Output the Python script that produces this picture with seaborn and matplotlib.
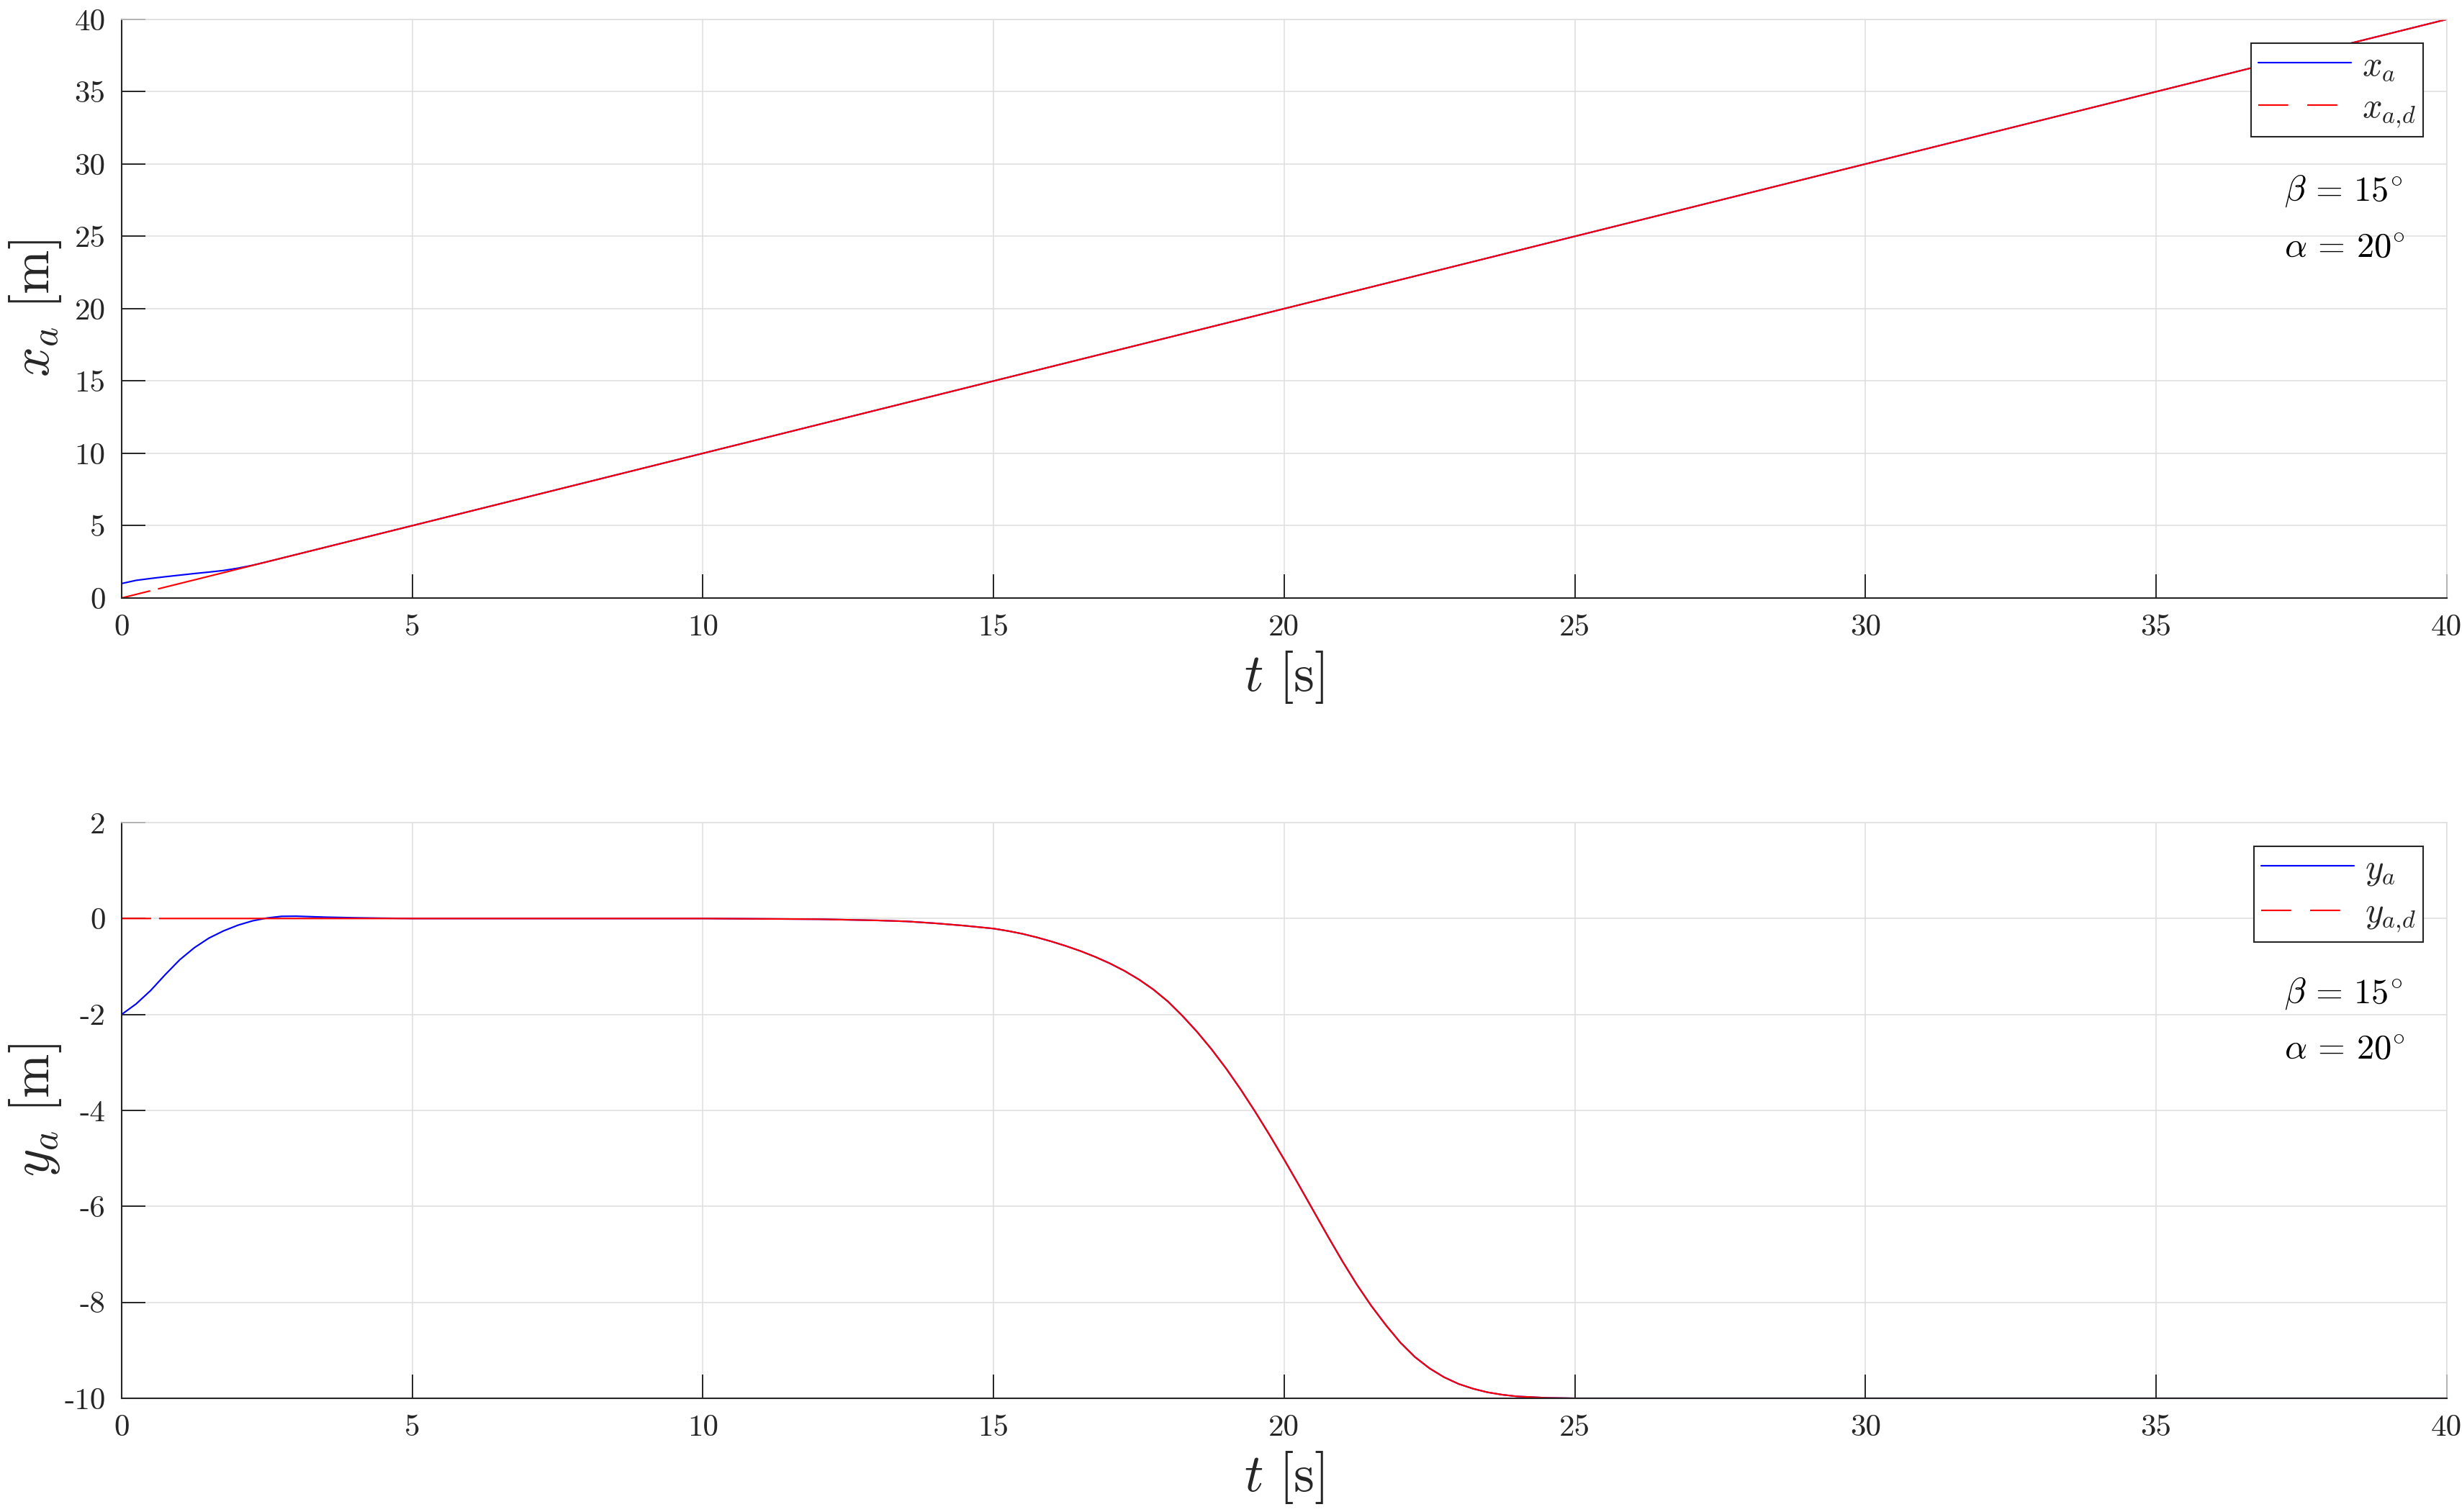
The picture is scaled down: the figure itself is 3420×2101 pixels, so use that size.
import matplotlib
matplotlib.use("Agg")
import matplotlib.pyplot as plt
from matplotlib.lines import Line2D
import seaborn as sns

# x_a: actual and desired
t_xa = [0, 0.25, 0.5, 0.75, 1.0, 1.25, 1.5, 1.75, 2.0, 2.25, 2.5, 3.0, 5, 10, 15, 20, 25, 30, 35, 40]
xa = [1.0, 1.22, 1.35, 1.47, 1.58, 1.69, 1.79, 1.9, 2.06, 2.26, 2.5, 3.0, 5, 10, 15, 20, 25, 30, 35, 40]
t_xd = [0, 5, 10, 15, 20, 25, 30, 35, 40]
xd = [0, 5, 10, 15, 20, 25, 30, 35, 40]

# y_a desired
t_yd = [0, 5, 10, 12, 13, 13.5, 14, 14.5, 15, 15.25, 15.5, 15.75, 16, 16.25, 16.5, 16.75,
        17, 17.25, 17.5, 17.75, 18, 18.25, 18.5, 18.75, 19, 19.25, 19.5, 19.75, 20, 20.25,
        20.5, 20.75, 21, 21.25, 21.5, 21.75, 22, 22.25, 22.5, 22.75, 23, 23.25, 23.5, 23.75,
        24, 24.5, 25, 30, 35, 40]
yd = [0, 0, 0, -0.015, -0.04, -0.06, -0.10, -0.15, -0.21, -0.26, -0.32, -0.395, -0.48, -0.575,
      -0.68, -0.80, -0.935, -1.09, -1.27, -1.48, -1.73, -2.03, -2.36, -2.725, -3.125, -3.56,
      -4.025, -4.515, -5.025, -5.55, -6.085, -6.62, -7.14, -7.63, -8.075, -8.475, -8.84,
      -9.14, -9.375, -9.56, -9.70, -9.80, -9.875, -9.925, -9.96, -9.99, -10, -10, -10, -10]

# y_a actual (start transient, then on top of the desired path)
t_ya_head = [0, 0.25, 0.5, 0.75, 1.0, 1.25, 1.5, 1.75, 2.0, 2.25, 2.5, 2.75, 3.0, 3.5, 4.0, 4.5, 5.0]
ya_head = [-2, -1.78, -1.50, -1.17, -0.86, -0.61, -0.41, -0.26, -0.14, -0.05, 0.01, 0.045, 0.048,
           0.028, 0.015, 0.006, 0.0]
t_ya = t_ya_head + t_yd[2:]
ya = ya_head + yd[2:]

t_ticks = [0, 5, 10, 15, 20, 25, 30, 35, 40]
t_tick_labels = ["0", "5", "10", "15", "20", "25", "30", "35", "40"]
x_ticks = [0, 5, 10, 15, 20, 25, 30, 35, 40]
x_tick_labels = ["0", "5", "10", "15", "20", "25", "30", "35", "40"]
y_ticks = [-10, -8, -6, -4, -2, 0, 2]
y_tick_labels = ["-10", "-8", "-6", "-4", "-2", "0", "2"]

sns.set_theme(style="white")
plt.rcParams.update({
    "font.family": "cmr10",
    "mathtext.fontset": "cm",
    "axes.unicode_minus": False,
    "lines.scale_dashes": False,
})

DARK = "#262626"
GRID = "#dedede"
LW = 1.55
RED_DASH = (0, (29.5, 7.9, 20000, 1))

fig = plt.figure(figsize=(34.2, 21.01), dpi=100)
ax1 = fig.add_axes([0.0494, 0.6045, 0.9444, 0.3827])
ax2 = fig.add_axes([0.0494, 0.0752, 0.9444, 0.3808])


def style(ax, yt, ytl, ylim, ylab):
    ax.set_xlim(0, 40)
    ax.set_ylim(*ylim)
    ax.set_xticks(t_ticks)
    ax.set_xticklabels(t_tick_labels)
    ax.set_yticks(yt)
    ax.set_yticklabels(ytl)
    ax.grid(True, color=GRID, lw=1.1)
    ax.set_axisbelow(True)
    for s in ["left", "bottom"]:
        ax.spines[s].set_color(DARK)
        ax.spines[s].set_linewidth(1.5)
    for s in ["top", "right"]:
        ax.spines[s].set_color(GRID)
        ax.spines[s].set_linewidth(1.1)
    ax.tick_params(direction="in", length=23.8, width=1.4, colors=DARK, labelsize=31, pad=16,
                   top=False, right=False, left=True, bottom=True)
    ax.set_xlabel(r"$t\ [\mathrm{s}]$", fontsize=53, labelpad=8, color=DARK)
    ax.set_ylabel(ylab, fontsize=53, color=DARK)
    ax.yaxis.set_label_coords(-0.0251, 0.5)


sns.lineplot(x=t_xa, y=xa, ax=ax1, color="blue", lw=LW, sort=False, estimator=None, legend=False)
sns.lineplot(x=t_xd, y=xd, ax=ax1, color="red", lw=LW, linestyle=RED_DASH, sort=False,
             estimator=None, legend=False)
sns.lineplot(x=t_ya, y=ya, ax=ax2, color="blue", lw=LW, sort=False, estimator=None, legend=False)
sns.lineplot(x=t_yd, y=yd, ax=ax2, color="red", lw=LW, linestyle=RED_DASH, sort=False,
             estimator=None, legend=False)

style(ax1, x_ticks, x_tick_labels, (0, 40), r"$x_a\ [\mathrm{m}]$")
style(ax2, y_ticks, y_tick_labels, (-10, 2), r"$y_a\ [\mathrm{m}]$")

for ax, names in [(ax1, [r"$x_a$", r"$x_{a{,}d}$"]), (ax2, [r"$y_a$", r"$y_{a{,}d}$"])]:
    handles = [Line2D([], [], color="blue", lw=LW),
               Line2D([], [], color="red", lw=LW, linestyle=(0, (30, 19)))]
    leg = ax.legend(handles, names, loc="upper right", bbox_to_anchor=(0.9898, 0.959),
                    borderaxespad=0, fontsize=35, frameon=True, fancybox=False,
                    edgecolor=DARK, framealpha=1, handlelength=2.66, handletextpad=0.3,
                    labelspacing=0.3, borderpad=0.21)
    leg.get_frame().set_linewidth(1.5)
    ax.text(0.930, 0.703, r"$\beta\,=\,15^{\circ}$", transform=ax.transAxes, fontsize=35,
            va="center", ha="left", color="black")
    ax.text(0.930, 0.605, r"$\alpha\,=\,20^{\circ}$", transform=ax.transAxes, fontsize=35,
            va="center", ha="left", color="black")

fig.savefig("out.png", dpi=100)
